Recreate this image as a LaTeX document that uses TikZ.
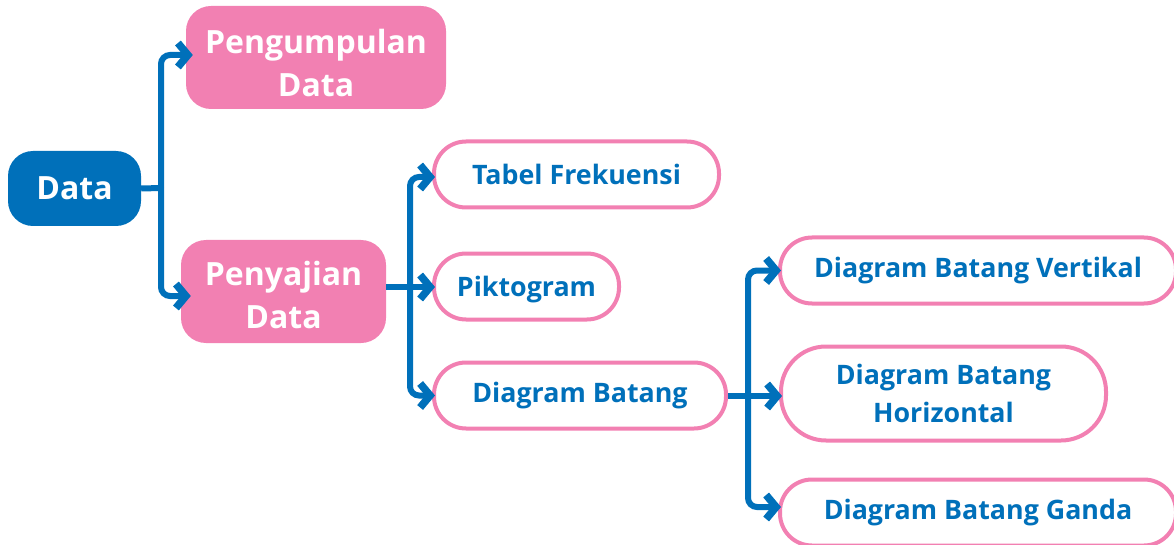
\documentclass[tikz,border=0pt]{standalone}
\usepackage{fontspec}
\setmainfont{Open Sans}
\usetikzlibrary{arrows.meta}
\definecolor{dblue}{RGB}{0,112,186}
\definecolor{dpink}{RGB}{242,128,178}
\newcommand\lowertext[2]{\raisebox{-#1}[\height][\depth]{\begin{tabular}{@{}c@{}}#2\end{tabular}}}
\tikzset{
  rootbox/.style={fill=dblue,text=white,rounded corners=25pt,inner sep=0pt,
    font=\bfseries\fontsize{32}{43}\selectfont,align=center},
  pinkbox/.style={fill=dpink,text=white,rounded corners=25pt,inner sep=0pt,
    font=\bfseries\fontsize{32}{43}\selectfont,align=center},
  leafbox/.style={draw=dpink,line width=4pt,fill=white,text=dblue,rounded corners=32pt,inner sep=0pt,
    font=\bfseries\fontsize{26.8}{38}\selectfont,align=center},
  conn/.style={draw=dblue,line width=6pt,rounded corners=9pt,
    -{Straight Barb[length=10pt,width=24pt,line width=7.5pt]}},
  plain/.style={draw=dblue,line width=6pt}
}
\begin{document}
\begin{tikzpicture}[x=1pt,y=-1pt]
\useasboundingbox (0,0) rectangle (1174,545);
\clip (0,0) rectangle (1174,545);
% nodes
\node[rootbox,minimum width=133pt,minimum height=75pt] (data) at (74.5,188.5) {Data};
\node[pinkbox,minimum width=260pt,minimum height=103pt] (peng) at (316,57.5) {\lowertext{9pt}{Pengumpulan\\Data}};
\node[pinkbox,minimum width=205pt,minimum height=103pt] (peny) at (283.5,291.5) {\lowertext{7pt}{Penyajian\\Data}};
\node[leafbox,minimum width=285pt,minimum height=66pt] (tabel) at (576.5,174.5) {Tabel Frekuensi};
\node[leafbox,minimum width=185pt,minimum height=66pt] (pikto) at (526.5,286.5) {\raisebox{-3pt}[\height][\depth]{Piktogram}};
\node[leafbox,minimum width=292pt,minimum height=66pt] (batang) at (580,395.5) {Diagram Batang};
\node[leafbox,minimum width=396pt,minimum height=66pt] (vert) at (978,270.5) {Diagram Batang Vertikal};
\node[leafbox,minimum width=325pt,minimum height=94pt,rounded corners=45pt] (hori) at (943.5,393.5) {Diagram Batang\\Horizontal};
\node[leafbox,minimum width=396pt,minimum height=66pt] (ganda) at (978,512.5) {Diagram Batang Ganda};
% junctions
\coordinate (j1) at (161,188);
\coordinate (j2) at (410,287);
\coordinate (j3) at (748,396);
% connectors
\draw[plain] (data.east) -- (j1);
\draw[conn] (j1) |- ([xshift=7pt,yshift=2.5pt]peng.west);
\draw[conn] (j1) |- ([xshift=10pt,yshift=-4.5pt]peny.west);
\draw[plain] (peny.east|-j2) -- (j2);
\draw[conn] (j2) |- ([xshift=3pt,yshift=-2.5pt]tabel.west);
\draw[conn] (j2) -- ([xshift=3pt]pikto.west|-j2);
\draw[conn] (j2) |- ([xshift=3pt]batang.west);
\draw[plain] (batang.east|-j3) -- (j3);
\draw[conn] (j3) |- ([xshift=3pt]vert.west);
\draw[conn] (j3) -- ([xshift=3pt]hori.west|-j3);
\draw[conn] (j3) |- ([xshift=3pt,yshift=5.5pt]ganda.west);
\end{tikzpicture}
\end{document}
